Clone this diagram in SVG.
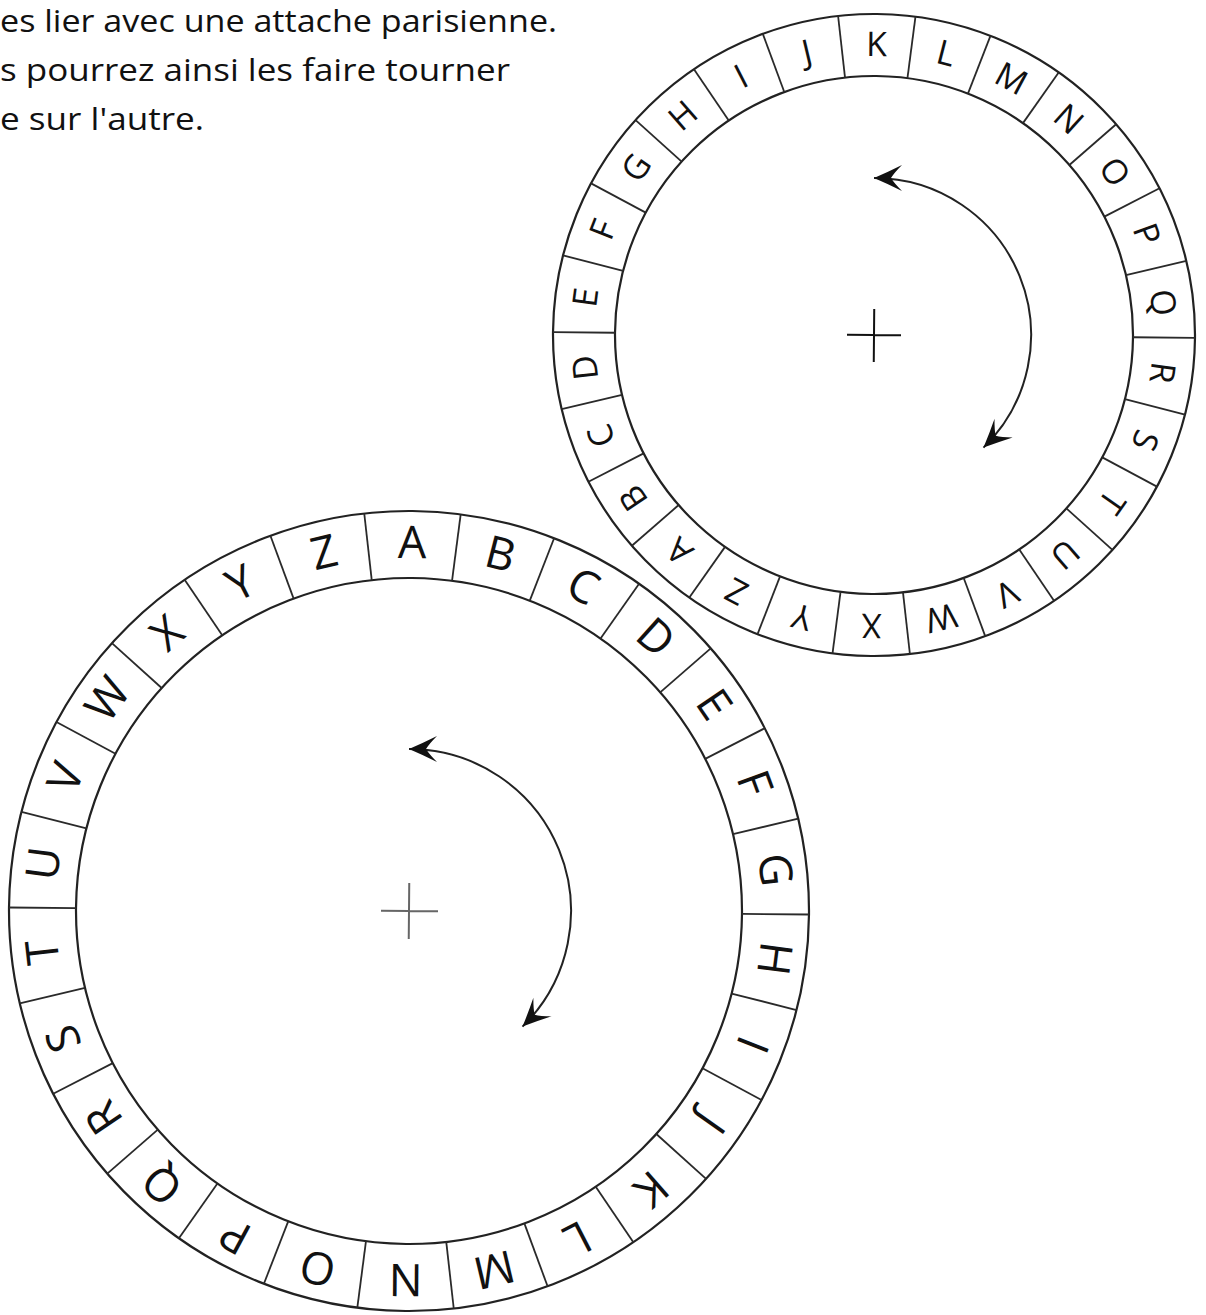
<svg xmlns="http://www.w3.org/2000/svg" width="1206" height="1315" viewBox="0 0 1206 1315">
<style>
.ring{fill:none;stroke:#222;stroke-width:2.2}
.div{stroke:#2a2a2a;stroke-width:1.8}
.ls{font-family:"Open Sans",sans-serif;font-size:34px;font-weight:500;text-anchor:middle;fill:#111}
.ll{font-family:"Open Sans",sans-serif;font-size:45px;font-weight:500;text-anchor:middle;fill:#111}
.cap{font-family:"Open Sans",sans-serif;font-size:31px;font-weight:500;fill:#111}
.arc{fill:none;stroke:#222;stroke-width:2}
</style>
<defs>
<marker id="ah" viewBox="-30 -15 32 30" refX="0" refY="0" markerWidth="32" markerHeight="30" markerUnits="userSpaceOnUse" orient="auto-start-reverse">
<path d="M0,0 Q-14,-6 -28,-13 Q-20,-5 -17,0 Q-20,5 -28,13 Q-14,6 0,0 Z" fill="#111"/>
</marker>
</defs>
<rect width="1206" height="1315" fill="#fff"/>
<g id="caption">
<text class="cap" x="0" y="32" textLength="557" lengthAdjust="spacingAndGlyphs">es lier avec une attache parisienne.</text>
<text class="cap" x="0" y="81" textLength="510" lengthAdjust="spacingAndGlyphs">s pourrez ainsi les faire tourner</text>
<text class="cap" x="0" y="130" textLength="204" lengthAdjust="spacingAndGlyphs">e sur l'autre.</text>
</g>
<g id="wheel-small" transform="translate(874,335) rotate(0.5)">
<circle class="ring" r="321" fill="#fff"/>
<circle class="ring" r="259"/>
<g class="div">
<line x1="0" y1="-259" x2="0" y2="-321" transform="rotate(6.923)"/>
<line x1="0" y1="-259" x2="0" y2="-321" transform="rotate(20.769)"/>
<line x1="0" y1="-259" x2="0" y2="-321" transform="rotate(34.615)"/>
<line x1="0" y1="-259" x2="0" y2="-321" transform="rotate(48.462)"/>
<line x1="0" y1="-259" x2="0" y2="-321" transform="rotate(62.308)"/>
<line x1="0" y1="-259" x2="0" y2="-321" transform="rotate(76.154)"/>
<line x1="0" y1="-259" x2="0" y2="-321" transform="rotate(90)"/>
<line x1="0" y1="-259" x2="0" y2="-321" transform="rotate(103.846)"/>
<line x1="0" y1="-259" x2="0" y2="-321" transform="rotate(117.692)"/>
<line x1="0" y1="-259" x2="0" y2="-321" transform="rotate(131.538)"/>
<line x1="0" y1="-259" x2="0" y2="-321" transform="rotate(145.385)"/>
<line x1="0" y1="-259" x2="0" y2="-321" transform="rotate(159.231)"/>
<line x1="0" y1="-259" x2="0" y2="-321" transform="rotate(173.077)"/>
<line x1="0" y1="-259" x2="0" y2="-321" transform="rotate(186.923)"/>
<line x1="0" y1="-259" x2="0" y2="-321" transform="rotate(200.769)"/>
<line x1="0" y1="-259" x2="0" y2="-321" transform="rotate(214.615)"/>
<line x1="0" y1="-259" x2="0" y2="-321" transform="rotate(228.462)"/>
<line x1="0" y1="-259" x2="0" y2="-321" transform="rotate(242.308)"/>
<line x1="0" y1="-259" x2="0" y2="-321" transform="rotate(256.154)"/>
<line x1="0" y1="-259" x2="0" y2="-321" transform="rotate(270)"/>
<line x1="0" y1="-259" x2="0" y2="-321" transform="rotate(283.846)"/>
<line x1="0" y1="-259" x2="0" y2="-321" transform="rotate(297.692)"/>
<line x1="0" y1="-259" x2="0" y2="-321" transform="rotate(311.538)"/>
<line x1="0" y1="-259" x2="0" y2="-321" transform="rotate(325.385)"/>
<line x1="0" y1="-259" x2="0" y2="-321" transform="rotate(339.231)"/>
<line x1="0" y1="-259" x2="0" y2="-321" transform="rotate(353.077)"/>
</g>
<g>
<text class="ls" y="-279" transform="rotate(221.538)">A</text>
<text class="ls" y="-279" transform="rotate(235.385)">B</text>
<text class="ls" y="-279" transform="rotate(249.231)">C</text>
<text class="ls" y="-279" transform="rotate(263.077)">D</text>
<text class="ls" y="-279" transform="rotate(276.923)">E</text>
<text class="ls" y="-279" transform="rotate(290.769)">F</text>
<text class="ls" y="-279" transform="rotate(304.615)">G</text>
<text class="ls" y="-279" transform="rotate(318.462)">H</text>
<text class="ls" y="-279" transform="rotate(332.308)">I</text>
<text class="ls" y="-279" transform="rotate(346.154)">J</text>
<text class="ls" y="-279" transform="rotate(0)">K</text>
<text class="ls" y="-279" transform="rotate(13.846)">L</text>
<text class="ls" y="-279" transform="rotate(27.692)">M</text>
<text class="ls" y="-279" transform="rotate(41.538)">N</text>
<text class="ls" y="-279" transform="rotate(55.385)">O</text>
<text class="ls" y="-279" transform="rotate(69.231)">P</text>
<text class="ls" y="-279" transform="rotate(83.077)">Q</text>
<text class="ls" y="-279" transform="rotate(96.923)">R</text>
<text class="ls" y="-279" transform="rotate(110.769)">S</text>
<text class="ls" y="-279" transform="rotate(124.615)">T</text>
<text class="ls" y="-279" transform="rotate(138.462)">U</text>
<text class="ls" y="-279" transform="rotate(152.308)">V</text>
<text class="ls" y="-279" transform="rotate(166.154)">W</text>
<text class="ls" y="-279" transform="rotate(180)">X</text>
<text class="ls" y="-279" transform="rotate(193.846)">Y</text>
<text class="ls" y="-279" transform="rotate(207.692)">Z</text>
</g>
<path d="M-27,0 H27 M0,-26 V27" stroke="#111" stroke-width="2"/>
</g>
<g id="wheel-large" transform="translate(409,911) rotate(0.5)">
<circle class="ring" r="400" fill="#fff"/>
<circle class="ring" r="333"/>
<g class="div">
<line x1="0" y1="-333" x2="0" y2="-400" transform="rotate(6.923)"/>
<line x1="0" y1="-333" x2="0" y2="-400" transform="rotate(20.769)"/>
<line x1="0" y1="-333" x2="0" y2="-400" transform="rotate(34.615)"/>
<line x1="0" y1="-333" x2="0" y2="-400" transform="rotate(48.462)"/>
<line x1="0" y1="-333" x2="0" y2="-400" transform="rotate(62.308)"/>
<line x1="0" y1="-333" x2="0" y2="-400" transform="rotate(76.154)"/>
<line x1="0" y1="-333" x2="0" y2="-400" transform="rotate(90)"/>
<line x1="0" y1="-333" x2="0" y2="-400" transform="rotate(103.846)"/>
<line x1="0" y1="-333" x2="0" y2="-400" transform="rotate(117.692)"/>
<line x1="0" y1="-333" x2="0" y2="-400" transform="rotate(131.538)"/>
<line x1="0" y1="-333" x2="0" y2="-400" transform="rotate(145.385)"/>
<line x1="0" y1="-333" x2="0" y2="-400" transform="rotate(159.231)"/>
<line x1="0" y1="-333" x2="0" y2="-400" transform="rotate(173.077)"/>
<line x1="0" y1="-333" x2="0" y2="-400" transform="rotate(186.923)"/>
<line x1="0" y1="-333" x2="0" y2="-400" transform="rotate(200.769)"/>
<line x1="0" y1="-333" x2="0" y2="-400" transform="rotate(214.615)"/>
<line x1="0" y1="-333" x2="0" y2="-400" transform="rotate(228.462)"/>
<line x1="0" y1="-333" x2="0" y2="-400" transform="rotate(242.308)"/>
<line x1="0" y1="-333" x2="0" y2="-400" transform="rotate(256.154)"/>
<line x1="0" y1="-333" x2="0" y2="-400" transform="rotate(270)"/>
<line x1="0" y1="-333" x2="0" y2="-400" transform="rotate(283.846)"/>
<line x1="0" y1="-333" x2="0" y2="-400" transform="rotate(297.692)"/>
<line x1="0" y1="-333" x2="0" y2="-400" transform="rotate(311.538)"/>
<line x1="0" y1="-333" x2="0" y2="-400" transform="rotate(325.385)"/>
<line x1="0" y1="-333" x2="0" y2="-400" transform="rotate(339.231)"/>
<line x1="0" y1="-333" x2="0" y2="-400" transform="rotate(353.077)"/>
</g>
<g>
<text class="ll" y="-353" transform="rotate(0)">A</text>
<text class="ll" y="-353" transform="rotate(13.846)">B</text>
<text class="ll" y="-353" transform="rotate(27.692)">C</text>
<text class="ll" y="-353" transform="rotate(41.538)">D</text>
<text class="ll" y="-353" transform="rotate(55.385)">E</text>
<text class="ll" y="-353" transform="rotate(69.231)">F</text>
<text class="ll" y="-353" transform="rotate(83.077)">G</text>
<text class="ll" y="-353" transform="rotate(96.923)">H</text>
<text class="ll" y="-353" transform="rotate(110.769)">I</text>
<text class="ll" y="-353" transform="rotate(124.615)">J</text>
<text class="ll" y="-353" transform="rotate(138.462)">K</text>
<text class="ll" y="-353" transform="rotate(152.308)">L</text>
<text class="ll" y="-353" transform="rotate(166.154)">M</text>
<text class="ll" y="-353" transform="rotate(180)">N</text>
<text class="ll" y="-353" transform="rotate(193.846)">O</text>
<text class="ll" y="-353" transform="rotate(207.692)">P</text>
<text class="ll" y="-353" transform="rotate(221.538)">Q</text>
<text class="ll" y="-353" transform="rotate(235.385)">R</text>
<text class="ll" y="-353" transform="rotate(249.231)">S</text>
<text class="ll" y="-353" transform="rotate(263.077)">T</text>
<text class="ll" y="-353" transform="rotate(276.923)">U</text>
<text class="ll" y="-353" transform="rotate(290.769)">V</text>
<text class="ll" y="-353" transform="rotate(304.615)">W</text>
<text class="ll" y="-353" transform="rotate(318.462)">X</text>
<text class="ll" y="-353" transform="rotate(332.308)">Y</text>
<text class="ll" y="-353" transform="rotate(346.154)">Z</text>
</g>
<path d="M-28,0 H29 M0,-28 V28" stroke="#666" stroke-width="2"/>
</g>
<g id="connectors">
<path class="arc" d="M874,178 A157,157 0 0 1 983.5,447.6" marker-start="url(#ah)" marker-end="url(#ah)"/>
<path class="arc" d="M409,749 A162,162 0 0 1 522.5,1026.6" marker-start="url(#ah)" marker-end="url(#ah)"/>
</g>
</svg>
